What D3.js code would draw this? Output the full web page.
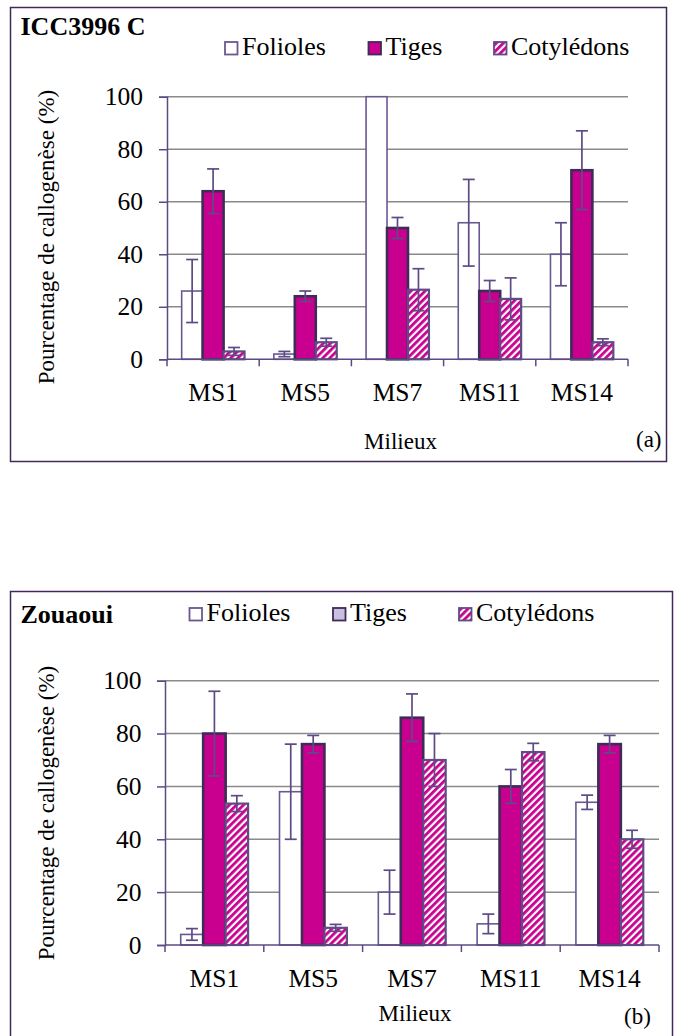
<!DOCTYPE html>
<html>
<head>
<meta charset="utf-8">
<script src="https://cdn.jsdelivr.net/npm/d3@7"></script>
<style>
  html, body { margin: 0; padding: 0; background: #fff; }
  svg { display: block; }
</style>
</head>
<body>
<svg id="chart" width="681" height="1036"></svg>
<script>
// Culture media and explant types
const milieux = ["MS1", "MS5", "MS7", "MS11", "MS14"];
const explants = ["Folioles", "Tiges", "Cotylédons"];
const yTicks = [0, 20, 40, 60, 80, 100];

// (a) ICC3996 C : callus induction rate (%) and error margins
const iccFolioles   = [26, 2, 100, 52, 40];
const iccTiges      = [64, 24, 50, 26, 72];
const iccCotyledons = [3, 6.5, 26.5, 23, 6.5];
const iccFoliolesErr   = [12, 1, 0, 16.5, 12];
const iccTigesErr      = [8.5, 2, 4, 4, 15];
const iccCotyledonsErr = [1.5, 1.5, 8, 8, 1.3];

// (b) Zouaoui
const zouFolioles   = [4, 58, 20, 8, 54];
const zouTiges      = [80, 76, 86, 60, 76];
const zouCotyledons = [53.5, 6.5, 70, 73, 40];
const zouFoliolesErr   = [2.2, 18, 8.3, 3.7, 2.7];
const zouTigesErr      = [16, 3.3, 9, 6.4, 3.3];
const zouCotyledonsErr = [3, 1.3, 10, 3.3, 3.4];

const SERIF = '"Liberation Serif", "Times New Roman", serif';
const MAGENTA = "#c9008f";
const DARK = "#3e2b58";
const PURPLE = "#6a5892";
const AXIS = "#5b4a83";
const GRID = "#8a8a8a";

const svg = d3.select("#chart");
const defs = svg.append("defs");

// diagonal magenta / white stripes
const pat = defs.append("pattern")
  .attr("id", "hatch")
  .attr("patternUnits", "userSpaceOnUse")
  .attr("width", 5).attr("height", 5)
  .attr("patternTransform", "rotate(45)");
pat.append("rect").attr("width", 5).attr("height", 5).attr("fill", "#fff");
pat.append("rect").attr("width", 2.8).attr("height", 5).attr("fill", MAGENTA);

function drawPanel(cfg) {
  const g = svg.append("g");

  // frame
  g.append("rect")
    .attr("x", cfg.frame[0]).attr("y", cfg.frame[1])
    .attr("width", cfg.frame[2]).attr("height", cfg.frame[3])
    .attr("fill", "none").attr("stroke", DARK).attr("stroke-width", 1.5);

  const x0 = d3.scaleBand().domain(milieux).range([cfg.x0, cfg.x1]).padding(0);
  const x1 = d3.scaleBand().domain(explants).range([0, x0.bandwidth()])
    .paddingInner(0).paddingOuter(0.7);
  const y = d3.scaleLinear().domain([0, 100]).range([cfg.y0, cfg.y100]);

  // gridlines
  g.append("g").selectAll("line").data(yTicks.filter(t => t > 0)).join("line")
    .attr("x1", cfg.x0).attr("x2", cfg.x1)
    .attr("y1", d => y(d)).attr("y2", d => y(d))
    .attr("stroke", GRID).attr("stroke-width", 1.5);

  // bars
  const series = explants.map((name, i) => ({
    name,
    values: cfg.values[i].map((v, j) => ({ cat: milieux[j], v, err: cfg.errors[i][j] }))
  }));
  const styles = {
    "Folioles":   { fill: "#fff", stroke: PURPLE, sw: 1.6 },
    "Tiges":      { fill: MAGENTA, stroke: DARK, sw: 2.6 },
    "Cotylédons": { fill: "url(#hatch)", stroke: "#5f4c86", sw: 2.2 }
  };

  series.forEach(s => {
    const st = styles[s.name];
    g.append("g").selectAll("rect").data(s.values).join("rect")
      .attr("x", d => x0(d.cat) + x1(s.name))
      .attr("y", d => y(d.v))
      .attr("width", x1.bandwidth())
      .attr("height", d => y(0) - y(d.v))
      .attr("fill", st.fill)
      .attr("stroke", st.stroke)
      .attr("stroke-width", st.sw);
  });

  // error bars
  series.forEach(s => {
    const eg = g.append("g").attr("stroke", "#5e4b86").attr("stroke-width", 1.7);
    s.values.filter(d => d.err > 0).forEach(d => {
      const cx = x0(d.cat) + x1(s.name) + x1.bandwidth() / 2;
      const lo = Math.max(0, d.v - d.err), hi = d.v + d.err;
      eg.append("line").attr("x1", cx).attr("x2", cx).attr("y1", y(lo)).attr("y2", y(hi));
      eg.append("line").attr("x1", cx - 6).attr("x2", cx + 6).attr("y1", y(lo)).attr("y2", y(lo));
      eg.append("line").attr("x1", cx - 6).attr("x2", cx + 6).attr("y1", y(hi)).attr("y2", y(hi));
    });
  });

  // y axis
  const yAxis = g.append("g").attr("transform", `translate(${cfg.x0},0)`)
    .call(d3.axisLeft(y).tickValues(yTicks).tickSize(8).tickPadding(cfg.tickPad));
  yAxis.attr("font-family", null);
  yAxis.select(".domain").attr("stroke", AXIS).attr("stroke-width", 1.5);
  yAxis.selectAll(".tick line").attr("stroke", AXIS).attr("stroke-width", 1.5);
  yAxis.selectAll(".tick text").attr("font-size", 25.5).attr("fill", "#000");

  // x axis: ticks on category boundaries
  const xAxisG = g.append("g");
  xAxisG.append("line").attr("x1", cfg.x0).attr("x2", cfg.x1)
    .attr("y1", y(0)).attr("y2", y(0)).attr("stroke", AXIS).attr("stroke-width", 1.5);
  const bounds = milieux.map(m => x0(m)).concat([cfg.x1]);
  xAxisG.selectAll("line.b").data(bounds).join("line").attr("class", "b")
    .attr("x1", d => d).attr("x2", d => d)
    .attr("y1", y(0)).attr("y2", y(0) + 7)
    .attr("stroke", AXIS).attr("stroke-width", 1.5);
  xAxisG.selectAll("text").data(milieux).join("text")
    .attr("x", d => x0(d) + x0.bandwidth() / 2)
    .attr("y", cfg.catY)
    .attr("text-anchor", "middle").attr("font-size", 25.5)
    .text(d => d);

  // axis titles
  g.append("text").attr("x", (cfg.x0 + cfg.x1) / 2 + 3).attr("y", cfg.xTitleY)
    .attr("text-anchor", "middle").attr("font-size", 23).text("Milieux");
  g.append("text")
    .attr("transform", `translate(${cfg.yTitleX},${cfg.yTitleY}) rotate(-90)`)
    .attr("text-anchor", "middle").attr("dominant-baseline", "central")
    .attr("font-size", 23).text("Pourcentage de callogenèse (%)");

  // panel letter
  g.append("text").attr("x", cfg.letter[0]).attr("y", cfg.letter[1])
    .attr("font-size", 23).text(cfg.letter[2]);

  // title
  g.append("text").attr("x", 20.5).attr("y", cfg.titleY)
    .attr("font-size", 26).attr("font-weight", "bold").text(cfg.title);

  // legend
  const legFills = [
    { fill: "#fff", stroke: PURPLE },
    { fill: cfg.tigesLegendFill, stroke: DARK },
    { fill: "url(#hatch)", stroke: "#5f4c86" }
  ];
  explants.forEach((name, i) => {
    const lx = cfg.legendX[i];
    g.append("rect").attr("x", lx).attr("y", cfg.legendY - 13)
      .attr("width", 12.5).attr("height", 12.5)
      .attr("fill", legFills[i].fill).attr("stroke", legFills[i].stroke).attr("stroke-width", 1.8);
    g.append("text").attr("x", lx + 17).attr("y", cfg.legendY)
      .attr("font-size", 26).text(name);
  });
}

drawPanel({
  title: "ICC3996 C",
  frame: [10.5, 7.5, 656, 454],
  x0: 167, x1: 628, y0: 359.3, y100: 96.7,
  tickPad: 16,
  values: [iccFolioles, iccTiges, iccCotyledons],
  errors: [iccFoliolesErr, iccTigesErr, iccCotyledonsErr],
  catY: 401, xTitleY: 449, yTitleX: 46, yTitleY: 237,
  letter: [636, 447, "(a)"],
  titleY: 35,
  legendX: [225, 368.5, 494],
  legendY: 55,
  tigesLegendFill: MAGENTA
});

drawPanel({
  title: "Zouaoui",
  frame: [10.5, 591.5, 662, 460],
  x0: 165, x1: 659, y0: 945, y100: 680.7,
  tickPad: 15.5,
  values: [zouFolioles, zouTiges, zouCotyledons],
  errors: [zouFoliolesErr, zouTigesErr, zouCotyledonsErr],
  catY: 987, xTitleY: 1021, yTitleX: 46, yTitleY: 813,
  letter: [624, 1024, "(b)"],
  titleY: 623,
  legendX: [189.5, 333, 459],
  legendY: 621,
  tigesLegendFill: "#cbbfe0"
});

// every label in the chart uses the serif face
svg.selectAll("text").style("font-family", SERIF).attr("fill", "#000");
</script>
</body>
</html>
